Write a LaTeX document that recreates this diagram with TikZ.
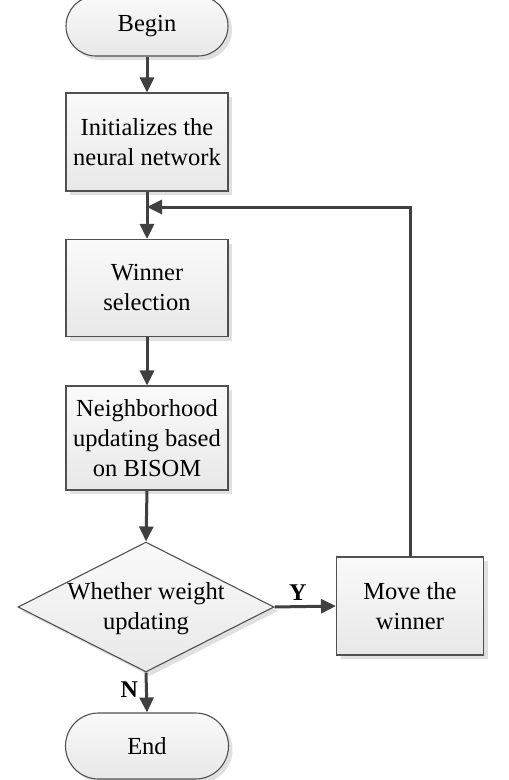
\documentclass[tikz,border=0pt]{standalone}
\usepackage{fontspec}
\setmainfont{Liberation Serif}
\usetikzlibrary{arrows.meta,shapes.geometric,shapes.misc,shadows}
\definecolor{linec}{HTML}{404040}
\definecolor{edgec}{HTML}{505050}
\tikzset{
  boxbase/.style={draw=edgec, line width=1.1pt, top color=black!2, bottom color=black!9,
    drop shadow={shadow xshift=4pt, shadow yshift=-4pt, fill=black!12, opacity=1},
    align=center, inner sep=0pt, font=\fontsize{24.5}{30}\selectfont},
  procbox/.style={boxbase, rectangle, minimum width=162pt},
  termbox/.style={boxbase, rounded rectangle, minimum width=162pt, minimum height=64pt},
  decbox/.style={boxbase, diamond, minimum width=256pt, minimum height=130pt},
  plaintext/.style={align=center, inner sep=0pt, font=\fontsize{24.5}{30}\selectfont},
  flow/.style={draw=linec, line width=3pt, -{Triangle[length=15pt,width=14pt]}},
  yn/.style={inner sep=0pt, font=\fontsize{24}{28}\selectfont\bfseries}
}
\begin{document}
\begin{tikzpicture}[x=1pt,y=-1pt]
\useasboundingbox (0,0) rectangle (509,780);
\node[termbox, minimum height=60pt] (begin) at (147,26) {Begin};
\node[procbox, minimum height=98pt] (init) at (147,142) {Initializes the\\neural network};
\node[procbox, minimum height=97pt] (win) at (147,288) {Winner\\selection};
\node[procbox, minimum height=104pt] (nb) at (147,438) {Neighborhood\\updating based\\on BISOM};
\node[decbox] (dec) at (146,607) {};
\node[plaintext] (dectext) at (146,609) {Whether weight\\updating};
\node[procbox, minimum width=147pt, minimum height=98pt] (move) at (410,606) {Move the\\winner};
\node[termbox, minimum width=163pt, minimum height=66pt] (end) at (147,746) {End};
\coordinate (turn) at (410,207);
\coordinate (join) at (147,207);
\draw[flow] (begin.south) -- (init.north);
\draw[flow] (init.south) -- (win.north);
\draw[flow] (win.south) -- (nb.north);
\draw[flow] (nb.south) -- (dec.north);
\draw[flow] (dec.south) -- node[yn, left=7pt, pos=0.42] {N} (end.north);
\draw[flow] (dec.east) -- node[yn, above=5pt, pos=0.38] {Y} (move.west);
\draw[flow] (move.north) -- (turn) -- (join);
\end{tikzpicture}
\end{document}
